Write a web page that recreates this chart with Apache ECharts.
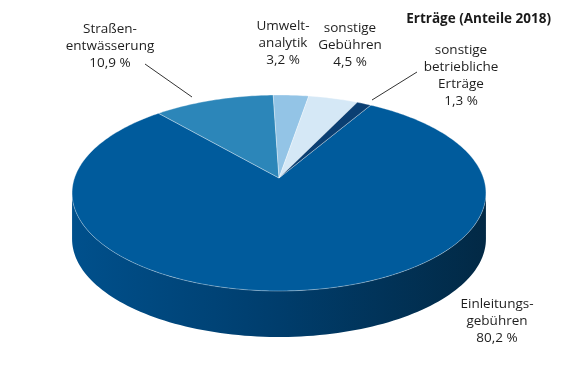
<!DOCTYPE html>
<html><head><meta charset="utf-8">
<script src="https://cdn.jsdelivr.net/npm/echarts@6/dist/echarts.min.js"></script>
<style>html,body{margin:0;padding:0;background:#fff}#c{width:570px;height:380px}</style>
</head><body><div id="c"></div>
<script>
// ---- data ----
const categories = ['Einleitungsgebühren', 'Straßenentwässerung', 'Umweltanalytik', 'sonstige Gebühren', 'sonstige betriebliche Erträge'];
const labelNames = ['Einleitungs-\ngebühren', 'Straßen-\nentwässerung', 'Umwelt-\nanalytik', 'sonstige\nGebühren', 'sonstige\nbetriebliche\nErträge'];
const values = [80.2, 10.9, 3.2, 4.5, 1.3];
const titleText = 'Erträge (Anteile 2018)';

// ---- styles / layout ----
const colors = ['#005b9c', '#2c86b9', '#93c4e6', '#d5e8f6', '#0b3f72'];
const sideStops = [[0, '#00508c'], [0.5, '#003d6c'], [1, '#022945']];
const APEX = [279, 178], RX = 204.5, RY = 95.7, K = -0.153, DEPTH = 46, START = -59.5;
const FONT = '"Open Sans", "Noto Sans", sans-serif';
const LINE_H = 17;
const labelPos = [[497, 304], [110, 29], [283, 26], [350, 28], [461, 50]];
const leaderLines = [null, [[145, 64], [192, 97]], null, null, [[372, 100], [417, 72]]];

const total = values.reduce((a, b) => a + b, 0);
let acc = START;
const sliceData = values.map((v, i) => {
  const s = acc, e = acc + v / total * 360;
  acc = e;
  return { name: categories[i], value: [s, e, v] };
});

function fmt(v) { return v.toFixed(1).replace('.', ',') + ' %'; }

function P(api, deg, dy) {
  const t = deg * Math.PI / 180, s = Math.sin(t), c = Math.cos(t), w = 1 + K * s;
  return api.coord([APEX[0] + RX * c / w, APEX[1] + RY * s / w + (dy || 0)]);
}

const PHI0 = Math.asin(-K) * 180 / Math.PI;

function renderItem(params, api) {
  const i = params.dataIndex;
  const s = api.value(0), e = api.value(1);
  const children = [];
  // side wall (visible front part)
  for (let off = -360; off <= 360; off += 360) {
    const a = Math.max(s, PHI0 + off), b = Math.min(e, 180 - PHI0 + off);
    if (b > a) {
      const top = [], bot = [];
      const n = Math.max(8, Math.ceil((b - a) / 1.5));
      for (let j = 0; j <= n; j++) {
        const d = a + (b - a) * j / n;
        top.push(P(api, d, 0));
        bot.push(P(api, d, DEPTH));
      }
      children.push({
        type: 'polygon',
        shape: { points: top.concat(bot.reverse()) },
        style: {
          fill: { type: 'linear', x: 1, y: 0, x2: 0, y2: 0,
            colorStops: sideStops.map(st => ({ offset: 1 - st[0], color: st[1] })) },
          stroke: null
        }
      });
    }
  }
  // top face
  const pts = [api.coord(APEX)];
  const n = Math.max(4, Math.ceil((e - s) / 1));
  for (let j = 0; j <= n; j++) pts.push(P(api, s + (e - s) * j / n, 0));
  children.push({
    type: 'polygon',
    shape: { points: pts },
    style: { fill: colors[i], stroke: 'rgba(255,255,255,0.55)', lineWidth: 0.6, lineJoin: 'round' }
  });
  return { type: 'group', children: children };
}

function renderLabels(params, api) {
  const i = params.dataIndex;
  const children = [];
  const lp = labelPos[i];
  const c = api.coord(lp);
  children.push({
    type: 'text',
    style: {
      text: labelNames[i] + '\n' + fmt(api.value(2)),
      x: c[0], y: c[1] - LINE_H / 2,
      align: 'center', verticalAlign: 'top',
      fontFamily: FONT, fontSize: 13.5, lineHeight: LINE_H,
      fill: '#1e1e1e'
    }
  });
  const ll = leaderLines[i];
  if (ll) {
    const p1 = api.coord(ll[0]), p2 = api.coord(ll[1]);
    children.push({ type: 'line', shape: { x1: p1[0], y1: p1[1], x2: p2[0], y2: p2[1] },
      style: { stroke: '#333', lineWidth: 1 } });
  }
  return { type: 'group', children: children };
}

const chart = echarts.init(document.getElementById('c'), null, { renderer: 'canvas' });
chart.setOption({
  animation: false,
  backgroundColor: '#fff',
  title: {
    text: titleText, right: 14, top: 7,
    textStyle: { fontFamily: FONT, fontWeight: 'bold', fontSize: 13.5, color: '#1a1a1a' }
  },
  grid: { left: 0, right: 0, top: 0, bottom: 0 },
  xAxis: { type: 'value', min: 0, max: 570, show: false },
  yAxis: { type: 'value', min: 0, max: 380, inverse: true, show: false },
  series: [
    { type: 'custom', renderItem: renderItem, data: sliceData, silent: true, clip: false },
    { type: 'custom', renderItem: renderLabels, data: sliceData, silent: true, clip: false, z: 3 }
  ]
});
</script>
</body></html>
